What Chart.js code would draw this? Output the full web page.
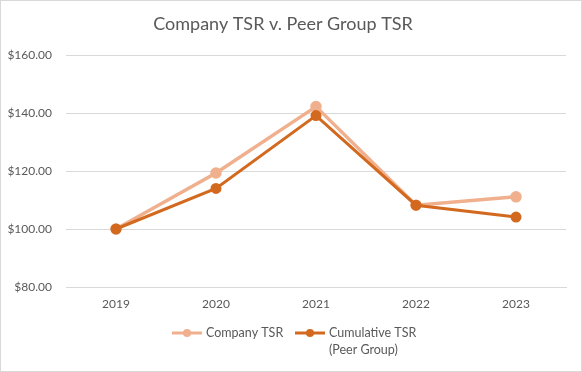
<!DOCTYPE html>
<html>
<head>
<meta charset="utf-8">
<script src="https://cdn.jsdelivr.net/npm/chart.js@4/dist/chart.umd.min.js"></script>
<style>
  html, body { margin: 0; padding: 0; background: #fff; }
  #wrap { width: 582px; height: 372px; position: relative; }
</style>
</head>
<body>
<div id="wrap"><canvas id="tsrChart"></canvas></div>
<script>
// data
const years = ["2019", "2020", "2021", "2022", "2023"];
const companyTSR = [100, 119.3, 142.2, 108.2, 111.1];
const peerTSR = [100, 114.0, 139.1, 108.2, 104.1];
const seriesNames = ["Company TSR", ["Cumulative TSR", "(Peer Group)"]];

const lightOrange = "#F0AF8D";
const darkOrange = "#D2691F";
const textGrey = "#595959";
const fontFamily = "Lato, 'Open Sans', sans-serif";

// frame + legend drawn by hand (legend needs a wrapped label)
const frameAndLegend = {
    id: "frameAndLegend",
    afterDraw(chart) {
        const c = chart.ctx;
        c.save();
        c.strokeStyle = "#d9d9d9";
        c.lineWidth = 1;
        c.strokeRect(0.5, 0.5, chart.width - 1, chart.height - 1);

        const items = [
            { x: 172, color: lightOrange, text: [seriesNames[0]] },
            { x: 295, color: darkOrange, text: seriesNames[1] }
        ];
        const y = 333;
        c.font = "12.5px " + fontFamily;
        c.textBaseline = "middle";
        c.textAlign = "left";
        items.forEach(function (it) {
            c.strokeStyle = it.color;
            c.lineWidth = 3;
            c.beginPath();
            c.moveTo(it.x, y);
            c.lineTo(it.x + 30, y);
            c.stroke();
            c.fillStyle = it.color;
            c.beginPath();
            c.arc(it.x + 15, y, 4, 0, Math.PI * 2);
            c.fill();
            c.fillStyle = textGrey;
            it.text.forEach(function (t, i) {
                c.fillText(t, it.x + 34, y + i * 17);
            });
        });
        c.restore();
    }
};

const ctx = document.getElementById("tsrChart").getContext("2d");

const chart = new Chart(ctx, {
    type: "line",
    data: {
        labels: years,
        datasets: [{
            label: seriesNames[0],
            data: companyTSR,
            borderColor: lightOrange,
            backgroundColor: lightOrange,
            borderWidth: 3.5,
            pointRadius: 4,
            tension: 0,
            order: 1
        }, {
            label: seriesNames[1].join(" "),
            data: peerTSR,
            borderColor: darkOrange,
            backgroundColor: darkOrange,
            borderWidth: 3,
            pointRadius: 4,
            tension: 0,
            order: 0
        }]
    },
    options: {
        responsive: true,
        maintainAspectRatio: false,
        animation: false,
        layout: {
            padding: { top: 0, left: 0, right: 16, bottom: 55 }
        },
        plugins: {
            legend: { display: false },
            tooltip: { enabled: false },
            title: {
                display: true,
                text: "Company TSR v. Peer Group TSR",
                color: textGrey,
                font: { family: fontFamily, size: 18, weight: "normal" },
                padding: { top: 13, bottom: 20.4 }
            }
        },
        scales: {
            x: {
                offset: true,
                grid: { display: false, drawTicks: false },
                border: { display: true, color: "#d9d9d9", width: 1 },
                ticks: {
                    color: textGrey,
                    font: { family: fontFamily, size: 12 },
                    padding: 10,
                    maxRotation: 0
                },
                afterFit(scale) { scale.height = 30; }
            },
            y: {
                min: 80,
                max: 160,
                grid: { color: "#d9d9d9", drawTicks: false },
                border: { display: false },
                ticks: {
                    stepSize: 20,
                    color: textGrey,
                    font: { family: fontFamily, size: 12 },
                    padding: 14,
                    callback: function (v) { return "$" + v.toFixed(2); }
                },
                afterFit(scale) { scale.width = 66; }
            }
        }
    },
    plugins: [frameAndLegend]
});
</script>
</body>
</html>
